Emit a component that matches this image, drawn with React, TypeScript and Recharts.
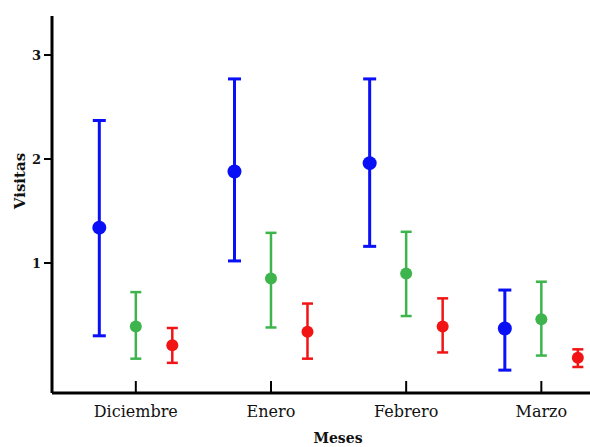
import React from 'react';
import { ScatterChart, Scatter, XAxis, YAxis, ErrorBar, Label } from 'recharts';

const months = ['Diciembre', 'Enero', 'Febrero', 'Marzo'];
const yTicks = [1, 2, 3];

const blueMean = [1.34, 1.88, 1.96, 0.37];
const blueLow = [0.3, 1.02, 1.16, -0.03];
const blueHigh = [2.37, 2.77, 2.77, 0.74];

const greenMean = [0.39, 0.85, 0.9, 0.46];
const greenLow = [0.08, 0.38, 0.49, 0.11];
const greenHigh = [0.72, 1.29, 1.3, 0.82];

const redMean = [0.21, 0.34, 0.39, 0.09];
const redLow = [0.04, 0.08, 0.14, 0.0];
const redHigh = [0.375, 0.61, 0.66, 0.17];

const build = (mean: number[], low: number[], high: number[], offset: number) =>
  months.map((m, i) => ({
    x: i + offset,
    y: mean[i],
    err: [mean[i] - low[i], high[i] - mean[i]],
  }));

const blueData = build(blueMean, blueLow, blueHigh, -0.27);
const greenData = build(greenMean, greenLow, greenHigh, 0);
const redData = build(redMean, redLow, redHigh, 0.27);

const BLUE = '#0a10f5';
const GREEN = '#3db54c';
const RED = '#f21414';

const dot = (color: string, r: number) => (props: any) =>
  <circle cx={props.cx} cy={props.cy} r={r} fill={color} />;

const FONT = 'DejaVu Serif';

export default function App() {
  return (
    <div style={{ position: 'absolute', left: 0, top: 0, background: '#fff' }}>
      <ScatterChart width={590} height={447} margin={{ top: 16, right: 0, left: 0, bottom: 24 }}>
        <XAxis
          type="number"
          dataKey="x"
          domain={[-0.62, 3.36]}
          allowDataOverflow
          ticks={[0, 1, 2, 3]}
          tickFormatter={(v: number) => months[v]}
          height={30}
          stroke="#000"
          axisLine={{ stroke: '#000', strokeWidth: 3 }}
          tickLine={{ stroke: '#000', strokeWidth: 2 }}
          tickSize={-12}
          tickMargin={25}
          tick={{ fontSize: 16, fontFamily: FONT, fill: '#111' }}
        >
          <Label
            content={(p: any) => (
              <text
                x={p.viewBox.x + p.viewBox.width / 2 + 17}
                y={443}
                textAnchor="middle"
                fontFamily={FONT}
                fontWeight="bold"
                fontSize={14}
                fill="#111"
              >
                Meses
              </text>
            )}
          />
        </XAxis>
        <YAxis
          type="number"
          dataKey="y"
          domain={[-0.25, 3.375]}
          allowDataOverflow
          ticks={yTicks}
          width={52}
          axisLine={{ stroke: '#000', strokeWidth: 3 }}
          tickLine={{ stroke: '#000', strokeWidth: 2 }}
          tickSize={8}
          tickMargin={3}
          tick={{ fontSize: 13, fontFamily: FONT, fontWeight: 'bold', fill: '#111' }}
        >
          <Label
            content={() => (
              <text
                x={20}
                y={181}
                transform="rotate(-90, 20, 181)"
                textAnchor="middle"
                dominantBaseline="central"
                fontFamily={FONT}
                fontWeight="bold"
                fontSize={15}
                fill="#111"
              >
                Visitas
              </text>
            )}
          />
        </YAxis>
        <Scatter data={blueData} isAnimationActive={false} shape={dot(BLUE, 7)}>
          <ErrorBar dataKey="err" direction="y" width={6.5} strokeWidth={3} stroke={BLUE} isAnimationActive={false} />
        </Scatter>
        <Scatter data={greenData} isAnimationActive={false} shape={dot(GREEN, 6)}>
          <ErrorBar dataKey="err" direction="y" width={5.5} strokeWidth={2.5} stroke={GREEN} isAnimationActive={false} />
        </Scatter>
        <Scatter data={redData} isAnimationActive={false} shape={dot(RED, 6)}>
          <ErrorBar dataKey="err" direction="y" width={5.5} strokeWidth={2.5} stroke={RED} isAnimationActive={false} />
        </Scatter>
      </ScatterChart>
    </div>
  );
}
